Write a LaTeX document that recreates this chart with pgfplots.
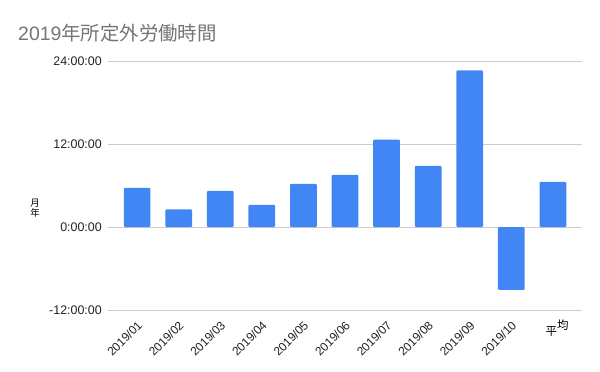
\documentclass[border=0pt]{standalone}
\usepackage{fontspec}
\setmainfont{Liberation Sans}
\newfontfamily\cjk{Noto Sans CJK JP}
\usepackage{pgfplots}
\pgfplotsset{compat=1.18}
\definecolor{barblue}{HTML}{4285F4}
\definecolor{gridgray}{HTML}{CCCCCC}
\definecolor{titlegray}{HTML}{757575}
\definecolor{ticktext}{HTML}{222222}
\newcommand{\rl}[1]{\rotatebox{45}{#1}}
\newcommand{\avglabel}{\makebox[13bp][l]{\fontsize{11.5}{13}\selectfont\cjk\color{black}平\raisebox{0.5em}{均}}}
\begin{document}
\begin{tikzpicture}[x=1bp,y=1bp]
\path[use as bounding box] (0,0) rectangle (600,371);
\begin{axis}[
  at={(108bp,61bp)}, anchor=south west,
  scale only axis, width=474bp, height=249bp,
  xmin=-0.7, xmax=10.7, ymin=-12, ymax=24,
  axis line style={draw=none},
  major tick length=0pt,
  ymajorgrids, grid style={gridgray, line width=0.8bp},
  ytick={-12,0,12,24},
  yticklabels={-12:00:00,0:00:00,12:00:00,24:00:00},
  yticklabel style={font=\fontsize{12.5}{14}\selectfont, text=ticktext, inner sep=0pt, anchor=east, xshift=-6bp},
  xtick={0,1,2,3,4,5,6,7,8,9,10},
  xticklabels={\rl{2019/01},\rl{2019/02},\rl{2019/03},\rl{2019/04},\rl{2019/05},\rl{2019/06},\rl{2019/07},\rl{2019/08},\rl{2019/09},\rl{2019/10},\avglabel},
  xticklabel style={font=\fontsize{12}{14}\selectfont, text=ticktext, inner sep=0pt, anchor=north east, xshift=6bp, yshift=-10bp},
  ybar, bar width=26.7bp,
]
\addplot[fill=barblue, draw=none, rounded corners=1bp] coordinates {
(0,5.66)(1,2.56)(2,5.22)(3,3.19)(4,6.24)(5,7.55)(6,12.63)(7,8.85)(8,22.64)(9,-9.10)(10,6.53)
};
\end{axis}
\node[anchor=base west, inner sep=0pt, text=titlegray, font=\fontsize{19.5}{22}\selectfont] at (18,331) {2019{\cjk 年所定外労働時間}};
\node[font=\cjk\fontsize{9.5}{9.5}\selectfont, align=center, inner sep=0pt, text=black] at (35,163) {月\\年};
\end{tikzpicture}
\end{document}
